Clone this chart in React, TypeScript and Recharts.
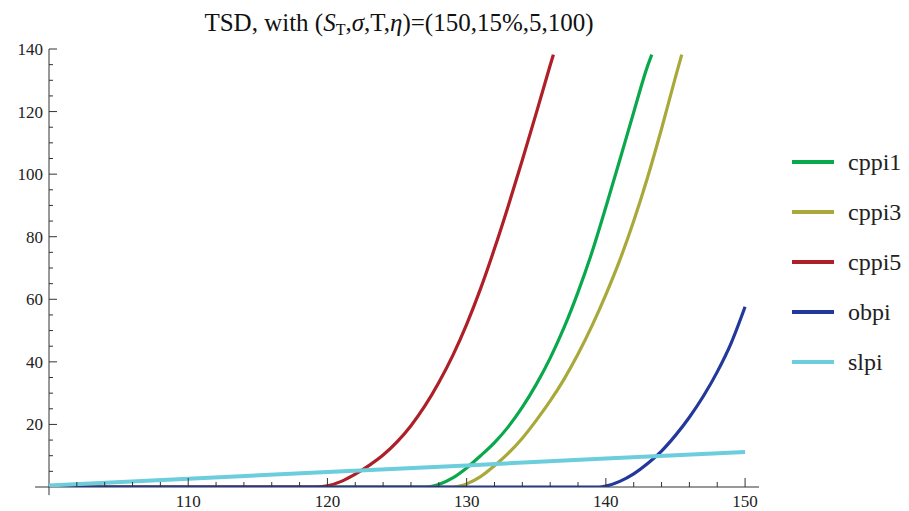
import React from "react";
import { LineChart, Line, XAxis, YAxis, ReferenceLine } from "recharts";

// ---- data ----
const cppi1X = [100, 127, 127.5, 128, 129, 130, 131, 132, 133, 134, 135, 136, 137, 138, 139, 140, 141, 142, 143, 143.3];
const cppi1Y = [0, 0, 0.2, 0.8, 2.9, 6.1, 10.0, 14.2, 19.3, 25.5, 32.8, 41.2, 51.0, 62.3, 75.0, 89.5, 104.5, 119.8, 134.6, 138.2];

const cppi3X = [100, 129, 129.5, 130, 131, 132, 133, 134, 135, 136, 137, 138, 139, 140, 141, 142, 143, 144, 145, 145.45];
const cppi3Y = [0, 0, 0.3, 1.0, 3.3, 6.8, 10.8, 15.6, 21.3, 27.5, 34.5, 42.5, 51.5, 61.5, 72.5, 85, 99, 114.5, 131, 138.2];

const cppi5X = [100, 119, 120, 121, 122, 123, 124, 125, 126, 127, 128, 129, 130, 131, 132, 133, 134, 135, 136, 136.23];
const cppi5Y = [0, 0, 0.4, 1.8, 4.1, 6.9, 10.2, 14.4, 19.6, 25.9, 33.4, 42.0, 52.0, 63.4, 76.2, 90.0, 104.5, 119.5, 134.8, 138.2];

const obpiX = [100, 139.5, 140, 141, 142, 143, 144, 145, 146, 147, 148, 149, 150];
const obpiY = [0, 0, 0.3, 1.8, 4.2, 7.5, 11.5, 16.5, 22.3, 29, 36.8, 46, 57.6];

const slpiX = [100, 110, 120, 130, 140, 150];
const slpiY = [0.5, 2.6, 4.8, 6.9, 9.1, 11.2];

const xTicks = [102, 104, 106, 108, 110, 112, 114, 116, 118, 120, 122, 124, 126, 128, 130, 132, 134, 136, 138, 140, 142, 144, 146, 148, 150];
const yTicks = [5, 10, 15, 20, 25, 30, 35, 40, 45, 50, 55, 60, 65, 70, 75, 80, 85, 90, 95, 100, 105, 110, 115, 120, 125, 130, 135, 140];
const xMajorStep = 10;
const yMajorStep = 20;

const seriesNames = ["cppi1", "cppi3", "cppi5", "obpi", "slpi"];
const seriesColors = ["#0aa84c", "#a9a83a", "#ae1f27", "#22389a", "#6ccddd"];

const zip = (xs: number[], ys: number[]) => xs.map((x, i) => ({ x, y: ys[i] }));
const seriesData = [
  zip(cppi1X, cppi1Y),
  zip(cppi3X, cppi3Y),
  zip(cppi5X, cppi5Y),
  zip(obpiX, obpiY),
  zip(slpiX, slpiY),
];

const FONT = "Liberation Serif";
const AXIS = "#333";

const XTick = (props: any) => {
  const { x, y, payload } = props;
  const v = payload.value;
  const major = v % xMajorStep === 0;
  return (
    <g>
      <line x1={x} x2={x} y1={y} y2={y - (major ? 9 : 5)} stroke={AXIS} strokeWidth={1} />
      {major && (
        <text x={x} y={y + 20} textAnchor="middle" fontFamily={FONT} fontSize={17} fill="#222">
          {v}
        </text>
      )}
    </g>
  );
};

const YTick = (props: any) => {
  const { x, y, payload } = props;
  const v = payload.value;
  const major = v % yMajorStep === 0;
  return (
    <g>
      <line x1={x} x2={x + (major ? 8 : 4)} y1={y} y2={y} stroke={AXIS} strokeWidth={1} />
      {major && (
        <text x={x - 6} y={y + 6} textAnchor="end" fontFamily={FONT} fontSize={17} fill="#222">
          {v}
        </text>
      )}
    </g>
  );
};

export default function App() {
  return (
    <div style={{ position: "absolute", left: 0, top: 0, width: 909, height: 511, background: "#fff", overflow: "hidden" }}>
      <div
        style={{
          position: "absolute",
          left: 0,
          width: 798,
          top: 8,
          textAlign: "center",
          fontFamily: FONT,
          fontSize: 25,
          color: "#111",
          whiteSpace: "nowrap",
          lineHeight: "30px",
        }}
      >
        TSD, with (<i>S</i>
        <span style={{ fontSize: 16, position: "relative", top: 4 }}>T</span>,<i>σ</i>,T,<i>η</i>)=(150,15%,5,100)
      </div>
      <LineChart
        width={909}
        height={511}
        margin={{ top: 49, right: 150, bottom: 0, left: 0 }}
        style={{ position: "absolute", left: 0, top: 0 }}
      >
        <XAxis
          type="number"
          dataKey="x"
          domain={[100, 151]}
          allowDataOverflow
          ticks={xTicks}
          height={24}
          axisLine={false}
          tickLine={false}
          tickSize={0}
          tickMargin={0}
          tick={<XTick />}
          interval={0}
        />
        <YAxis
          type="number"
          dataKey="y"
          domain={[0, 140]}
          allowDataOverflow
          ticks={yTicks}
          width={49}
          axisLine={false}
          tickLine={false}
          tickSize={0}
          tickMargin={0}
          tick={<YTick />}
          interval={0}
        />
        <ReferenceLine
          segment={[{ x: 99, y: 0 }, { x: 151, y: 0 }]}
          stroke={AXIS}
          strokeWidth={1}
          ifOverflow="visible"
        />
        <ReferenceLine
          segment={[{ x: 100, y: -2.6 }, { x: 100, y: 140 }]}
          stroke={AXIS}
          strokeWidth={1}
          ifOverflow="visible"
        />
        {seriesData.map((d, i) => (
          <Line
            key={seriesNames[i]}
            data={d}
            dataKey="y"
            type={i === 4 ? "linear" : "monotone"}
            stroke={seriesColors[i]}
            strokeWidth={i === 4 ? 4 : 3.2}
            dot={false}
            activeDot={false}
            isAnimationActive={false}
            name={seriesNames[i]}
          />
        ))}
      </LineChart>
      <div style={{ position: "absolute", left: 792, top: 137 }}>
        {seriesNames.map((n, i) => (
          <div key={n} style={{ height: 50, display: "flex", alignItems: "center" }}>
            <div style={{ width: 42, height: 4, background: seriesColors[i] }} />
            <span style={{ marginLeft: 14, fontFamily: FONT, fontSize: 24, color: "#222" }}>{n}</span>
          </div>
        ))}
      </div>
    </div>
  );
}
